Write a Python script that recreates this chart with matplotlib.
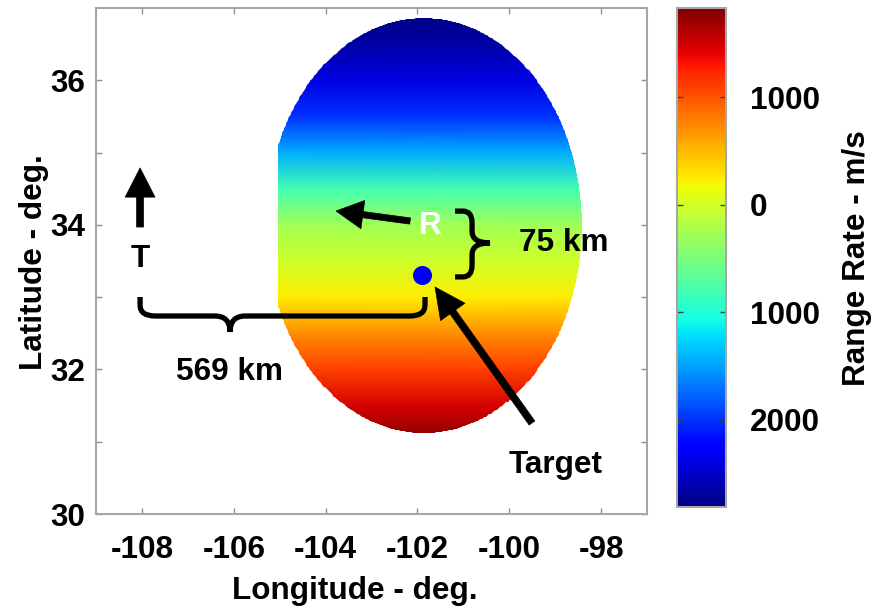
import numpy as np
import matplotlib
matplotlib.use("Agg")
import matplotlib.pyplot as plt
from matplotlib.path import Path
from matplotlib.patches import PathPatch
import matplotlib.cm as cm
from matplotlib.colors import Normalize

plt.rcParams['font.family'] = ['Liberation Sans', 'DejaVu Sans']
plt.rcParams['font.weight'] = 'bold'
plt.rcParams['axes.unicode_minus'] = False

# ---------------- data ----------------
lat_samples = [31.0, 31.5, 32.0, 32.5, 33.0, 33.5, 34.0, 34.5, 35.0, 35.5, 36.0, 36.5, 37.0]
range_rate = [1830, 1480, 1100, 720, 250, -30, -280, -800, -1450, -2000, -2400, -2650, -2810]
lon_samples = [-105.1, -98.3]

coverage_center = (-101.86, 33.99)   # lon, lat
coverage_semi = (3.44, 2.87)         # lon, lat half-widths
coverage_west_cut = -105.04

target_lon, target_lat = -101.89, 33.31

xticks = [-108, -106, -104, -102, -100, -98]
yticks = [30, 31, 32, 33, 34, 35, 36]
ytick_labels = ['30', '', '32', '', '34', '', '36']
cbar_ticks = [1000, 0, -1000, -2000]
cbar_tick_labels = ['1000', '0', '1000', '2000']
vmin, vmax = -2810, 1830

FS = 22.7
W, H = 890, 606
fig = plt.figure(figsize=(W / 100, H / 100), dpi=100)

ax = fig.add_axes([96 / W, (H - 514) / H, 551 / W, 506 / H])
ax.set_xlim(-109, -97)
ax.set_ylim(30, 37)

# field
LON, LAT = np.meshgrid(lon_samples, lat_samples)
C = np.repeat(np.array(range_rate, dtype=float)[:, None], len(lon_samples), axis=1)
mesh = ax.pcolormesh(LON, LAT, C, shading='gouraud', cmap='jet', vmin=vmin, vmax=vmax, zorder=1)

t = np.linspace(0, 2 * np.pi, 721)
ex = coverage_center[0] + coverage_semi[0] * np.cos(t)
ey = coverage_center[1] + coverage_semi[1] * np.sin(t)
ex = np.maximum(ex, coverage_west_cut)
clip = PathPatch(Path(np.column_stack([ex, ey])), transform=ax.transData, facecolor='none', edgecolor='none')
ax.add_patch(clip)
mesh.set_clip_path(clip)

# axes styling
spine_c = '#a6a6a6'
for s in ax.spines.values():
    s.set_color(spine_c)
    s.set_linewidth(1.5)
ax.set_xticks(xticks)
ax.set_xticklabels([str(v) for v in xticks])
ax.set_yticks(yticks)
ax.set_yticklabels(ytick_labels)
ax.tick_params(direction='in', length=4, width=1, color='#909090', top=True, right=True,
               labelsize=FS)
ax.tick_params(axis='x', pad=15)
ax.tick_params(axis='y', pad=8)
for lab in ax.get_xticklabels() + ax.get_yticklabels():
    lab.set_fontweight('bold')

# target
ax.plot([target_lon], [target_lat], 'o', color='#0000ff', markersize=12.7, zorder=5)

arrow_kw = dict(facecolor='k', edgecolor='k', linewidth=0.5, width=5, headwidth=21.5, headlength=21, shrink=0)
# T arrow
ax.annotate('', xy=(-108.04, 34.787), xytext=(-108.04, 33.97), arrowprops=arrow_kw, zorder=6)
# R arrow
ax.annotate('', xy=(-103.773, 34.192), xytext=(-102.16, 34.053),
            arrowprops=dict(arrow_kw, width=4.5, headwidth=20.5, headlength=19.5), zorder=6)
# Target arrow
ax.annotate('', xy=(-101.617, 33.14), xytext=(-99.505, 31.259),
            arrowprops=dict(arrow_kw, headlength=22), zorder=6)

# braces
def hbrace(x0, x1, xm, ytop, ybar, ytip, rx, ry):
    v = [(x0, ytop), (x0, ybar + ry), (x0, ybar), (x0 + rx, ybar),
         (xm - rx, ybar), (xm, ybar), (xm, ytip), (xm, ybar), (xm + rx, ybar),
         (x1 - rx, ybar), (x1, ybar), (x1, ybar + ry), (x1, ytop)]
    c = [Path.MOVETO, Path.LINETO, Path.CURVE3, Path.CURVE3,
         Path.LINETO, Path.CURVE3, Path.CURVE3, Path.CURVE3, Path.CURVE3,
         Path.LINETO, Path.CURVE3, Path.CURVE3, Path.LINETO]
    return Path(v, c)

def vbrace(y0, y1, ym, xend, xbar, xtip, rx, ry):
    v = [(xend, y0), (xbar - rx, y0), (xbar, y0), (xbar, y0 - ry),
         (xbar, ym + ry), (xbar, ym), (xtip, ym), (xbar, ym), (xbar, ym - ry),
         (xbar, y1 + ry), (xbar, y1), (xbar - rx, y1), (xend, y1)]
    c = [Path.MOVETO, Path.LINETO, Path.CURVE3, Path.CURVE3,
         Path.LINETO, Path.CURVE3, Path.CURVE3, Path.CURVE3, Path.CURVE3,
         Path.LINETO, Path.CURVE3, Path.CURVE3, Path.LINETO]
    return Path(v, c)

ax.add_patch(PathPatch(hbrace(-108.04, -101.835, -106.08, 33.002, 32.739, 32.518, 0.33, 0.15),
                       facecolor='none', edgecolor='k', lw=3.8, capstyle='butt', zorder=6))
ax.add_patch(PathPatch(vbrace(34.19, 33.28, 33.75, -101.18, -100.81, -100.42, 0.2, 0.16),
                       facecolor='none', edgecolor='k', lw=3.8, capstyle='butt', zorder=6))

tkw = dict(fontsize=FS, fontweight='bold', ha='center', va='baseline', zorder=7)
ax.text(-108.04, 33.417, 'T', color='k', **tkw)
ax.text(-101.726, 33.874, 'R', color='white', **tkw)
ax.text(-98.82, 33.638, '75 km', color='k', **tkw)
ax.text(-106.10, 31.854, '569 km', color='k', **tkw)
ax.text(-98.99, 30.567, 'Target', color='k', **tkw)

# axis labels
fig.text(355 / W, 1 - 599 / H, 'Longitude - deg.', fontsize=FS, fontweight='bold', ha='center', va='baseline')
fig.text(34 / W, 1 - 262 / H, 'Latitude - deg.', fontsize=FS, fontweight='bold', ha='center', va='center', rotation=90)

# colorbar
cax = fig.add_axes([677 / W, (H - 507) / H, 49 / W, 499 / H])
sm = cm.ScalarMappable(norm=Normalize(vmin, vmax), cmap='jet')
cb = fig.colorbar(sm, cax=cax)
cb.outline.set_edgecolor(spine_c)
cb.outline.set_linewidth(1.5)
cb.set_ticks(cbar_ticks)
cb.set_ticklabels(cbar_tick_labels)
cax.tick_params(direction='in', length=4, width=1, color='#404040', left=True, right=True,
                labelsize=FS, pad=17)
for lab in cax.get_yticklabels():
    lab.set_fontweight('bold')
fig.text(857 / W, 1 - 258 / H, 'Range Rate - m/s', fontsize=FS, fontweight='bold', ha='center', va='center', rotation=90)

fig.savefig('out.png', dpi=100)
